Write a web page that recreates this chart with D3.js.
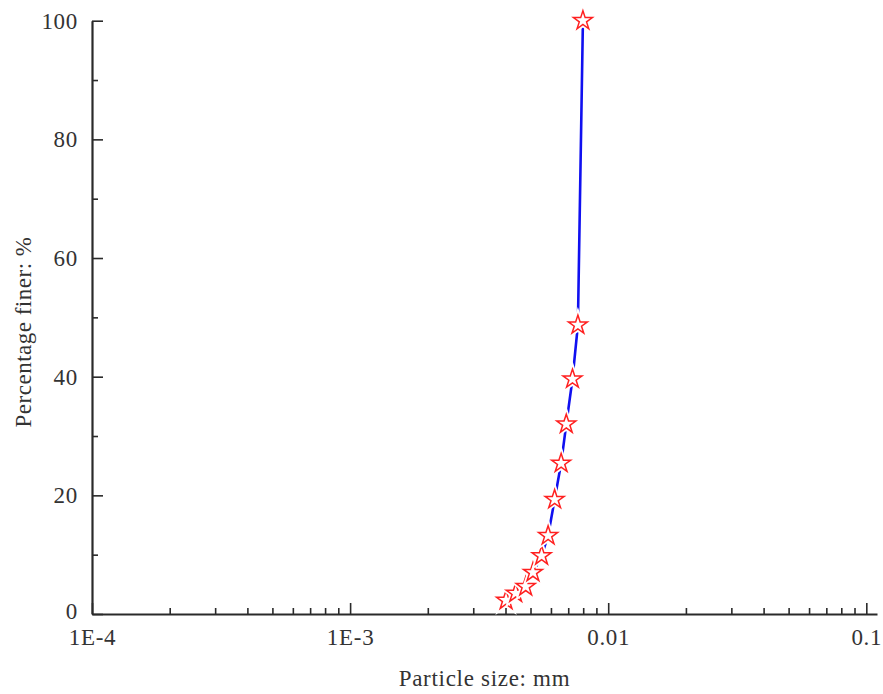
<!DOCTYPE html>
<html>
<head>
<meta charset="utf-8">
<script src="https://cdn.jsdelivr.net/npm/d3@7"></script>
<style>
  body { margin: 0; background: #fff; }
  text { font-family: "Liberation Serif", "Times New Roman", serif; fill: #333; }
</style>
</head>
<body>
<svg id="chart" width="883" height="694"></svg>
<script>
// particle size (mm) and cumulative percentage finer
const sizes = [0.00402, 0.00438, 0.00479, 0.00511, 0.00552, 0.00585, 0.00620, 0.00657, 0.00688, 0.00727, 0.00763, 0.00798];
const finer = [2.3, 3.5, 4.6, 7.0, 9.8, 13.2, 19.3, 25.4, 32.0, 39.6, 48.7, 100];

const xMajor = [1e-4, 1e-3, 1e-2, 1e-1];
const xLabels = ['1E-4', '1E-3', '0.01', '0.1'];
const yMajor = [0, 20, 40, 60, 80, 100];
const yMinor = [10, 30, 50, 70, 90];

const svg = d3.select('#chart');
const mLeft = 92, mRight = 877, mTop = 20.7, mBottom = 614;
const fontSize = '23px', spacing = '0.7px';

const x = d3.scaleLog().domain([1e-4, 0.11]).range([mLeft, mRight]);
const y = d3.scaleLinear().domain([0, 100]).range([mBottom, mTop]);

// minor ticks on the log axis: 2..9 of each decade
const xMinor = [];
[1e-4, 1e-3, 1e-2].forEach(d => {
  for (let k = 2; k <= 9; k++) xMinor.push(k * d);
});

const axisColor = '#2a2a2a';

// x axis
const gx = svg.append('g').attr('transform', `translate(0,${mBottom})`);
gx.append('g')
  .call(d3.axisBottom(x).tickValues(xMinor).tickSize(-6).tickSizeOuter(0).tickFormat(''))
  .call(g => g.select('.domain').remove());
gx.append('g')
  .call(d3.axisBottom(x).tickValues(xMajor).tickSize(-11).tickSizeOuter(0)
    .tickFormat((d, i) => xLabels[i]))
  .call(g => g.selectAll('text').attr('dy', 0).attr('y', 31));
gx.selectAll('.tick line').attr('stroke', axisColor).attr('stroke-width', 1.6);
gx.selectAll('.domain').attr('stroke', axisColor).attr('stroke-width', 2.2);

// y axis
const gy = svg.append('g').attr('transform', `translate(${mLeft},0)`);
gy.append('g')
  .call(d3.axisLeft(y).tickValues(yMinor).tickSize(-6).tickSizeOuter(0).tickFormat(''))
  .call(g => g.select('.domain').remove());
gy.append('g')
  .call(d3.axisLeft(y).tickValues(yMajor).tickSize(-11).tickSizeOuter(0))
  .call(g => g.selectAll('text').attr('x', -14).attr('dy', '0.33em'))
  // keep the "0" clear of the "1E-4" under it
  .call(g => g.selectAll('text').filter(d => d === 0).attr('dy', '0.2em'));
gy.selectAll('.tick line').attr('stroke', axisColor).attr('stroke-width', 1.6);
gy.selectAll('.domain').attr('stroke', axisColor).attr('stroke-width', 2.2);

svg.selectAll('.tick text')
  .style('fill', '#333')
  .style('font-family', '"Liberation Serif", serif')
  .style('font-size', fontSize)
  .style('letter-spacing', spacing);

// axis titles
svg.append('text')
  .attr('x', (mLeft + mRight) / 2).attr('y', 686)
  .attr('text-anchor', 'middle')
  .style('font-size', fontSize)
  .style('letter-spacing', spacing)
  .text('Particle size: mm');

svg.append('text')
  .attr('transform', 'translate(31,332) rotate(-90)')
  .attr('text-anchor', 'middle')
  .style('font-size', fontSize)
  .style('letter-spacing', '0.5px')
  .text('Percentage finer: %');

// curve
const pts = sizes.map((s, i) => [s, finer[i]]);
const line = d3.line().x(d => x(d[0])).y(d => y(d[1]));
svg.append('path')
  .datum(pts)
  .attr('d', line)
  .attr('fill', 'none')
  .attr('stroke', '#1010f0')
  .attr('stroke-width', 2.6);

// star markers, white halo gives the gap around each symbol
const star = d3.symbol().type(d3.symbolStar).size(112);
const marks = svg.append('g')
  .selectAll('g')
  .data(pts)
  .join('g')
  .attr('transform', d => `translate(${x(d[0])},${y(d[1])})`);
marks.append('path')
  .attr('d', star)
  .attr('fill', '#fff')
  .attr('stroke', '#fff')
  .attr('stroke-width', 5);
marks.append('path')
  .attr('d', star)
  .attr('fill', '#fff')
  .attr('stroke', '#ff2020')
  .attr('stroke-width', 1.5);
</script>
</body>
</html>
